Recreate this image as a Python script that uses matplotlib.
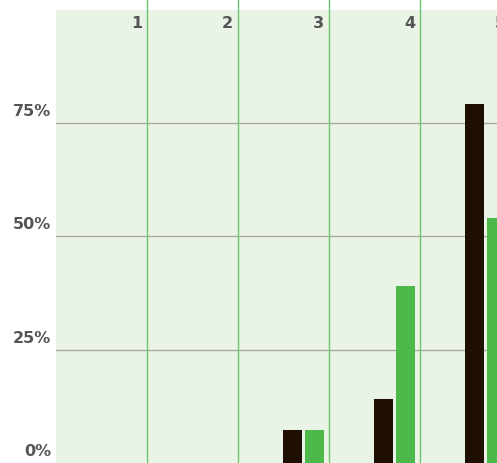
import matplotlib
matplotlib.use("Agg")
import matplotlib.pyplot as plt
import numpy as np

categories = ['1', '2', '3', '4', '5']
dark_values = [0, 0, 7.2, 14.2, 79.2]
green_values = [0, 0, 7.2, 39.1, 54.1]
y_ticks = [0, 25, 50, 75]
y_labels = ['0%', '25%', '50%', '75%']

BG = '#e9f4e7'
DARK = '#1e0f02'
GREEN = '#4cb94a'
VLINE = '#6cc46c'
HLINE = '#a8a8a8'
TEXT = '#555555'

fig = plt.figure(figsize=(4.97, 4.63), dpi=100, facecolor='white')
ax = fig.add_axes([56 / 497, 0, 455 / 497, 453.5 / 463])
ax.set_facecolor(BG)
ax.set_xlim(0, len(categories))
ax.set_ylim(0, 100)

for s in ax.spines.values():
    s.set_visible(False)
ax.set_xticks([])
ax.set_yticks([])

for v in y_ticks[1:]:
    ax.axhline(v, color=HLINE, lw=1.0, zorder=1)

for i in range(1, len(categories)):
    ax.axvline(i, ymin=0, ymax=1.03, color=VLINE, lw=1.0, zorder=2, clip_on=False)

x = np.arange(len(categories))
ax.bar(x + 0.6, dark_values, width=0.21, color=DARK, zorder=3)
ax.bar(x + 0.84, green_values, width=0.21, color=GREEN, zorder=3)

font = dict(family='DejaVu Sans', fontweight='bold', fontsize=11.5, color=TEXT)

for v, lab in zip(y_ticks, y_labels):
    ax.annotate(lab, xy=(0, v), xycoords=('axes fraction', 'data'),
                xytext=(-5, 4), textcoords='offset pixels',
                ha='right', va='bottom', annotation_clip=False, **font)

for i, lab in enumerate(categories):
    ax.annotate(lab, xy=(i + 1, 1), xycoords=('data', 'axes fraction'),
                xytext=(-5, -6), textcoords='offset pixels',
                ha='right', va='top', annotation_clip=False, **font)

fig.savefig('out.png', dpi=100, facecolor='white')
